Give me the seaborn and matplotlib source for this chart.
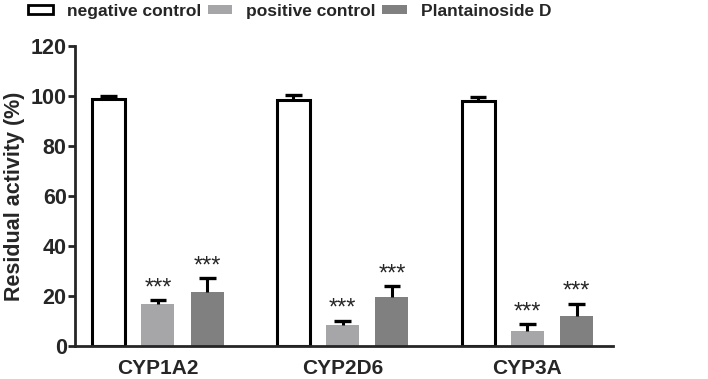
import matplotlib
matplotlib.use("Agg")
import matplotlib.pyplot as plt
import numpy as np
import pandas as pd
import seaborn as sns

# values
enzymes = ["CYP1A2", "CYP2D6", "CYP3A"]
groups = ["negative control", "positive control", "Plantainoside D"]
neg_mean = [98.7, 98.4, 97.9]
neg_err = [1.3, 1.9, 1.8]
pos_mean = [16.7, 8.4, 6.1]
pos_err = [1.7, 1.7, 2.6]
pd_mean = [21.5, 19.7, 12.1]
pd_err = [5.6, 4.3, 4.8]
stars = ["", "***", "***"]

colors = ["white", "#a6a6a8", "#808080"]

sns.set_style("ticks")
plt.rcParams["font.family"] = ["Liberation Sans", "DejaVu Sans"]
plt.rcParams["font.weight"] = "bold"

rows = []
for g, m, e in zip(groups, [neg_mean, pos_mean, pd_mean], [neg_err, pos_err, pd_err]):
    for enz, mv, ev in zip(enzymes, m, e):
        rows.append({"enzyme": enz, "group": g, "value": mv, "err": ev})
df = pd.DataFrame(rows)

fig = plt.figure(figsize=(7.08, 3.79), dpi=100)
ax = fig.add_axes([0.106, 0.087, 0.760, 0.792])

sns.barplot(data=df, x="enzyme", y="value", hue="group", order=enzymes,
            hue_order=groups, palette=colors, errorbar=None, gap=0.33,
            width=0.8, ax=ax, legend=False, saturation=1)

# style bars and add upper-only error bars + stars
nb = len(enzymes)
cap = 0.045
for gi, g in enumerate(groups):
    sub = df[df.group == g].set_index("enzyme").loc[enzymes]
    for ei, patch in enumerate(ax.patches[gi * nb:(gi + 1) * nb]):
        if gi == 0:
            patch.set_edgecolor("black")
            patch.set_linewidth(2.2)
        else:
            patch.set_edgecolor("none")
        xc = patch.get_x() + patch.get_width() / 2
        h = patch.get_height()
        e = sub["err"].iloc[ei]
        ax.vlines(xc, h, h + e, color="black", linewidth=2.2, zorder=3)
        ax.hlines(h + e, xc - cap, xc + cap, color="black", linewidth=2.4,
                  zorder=3)
        if stars[gi]:
            ax.text(xc, h + e + 0.3, stars[gi], ha="center", va="bottom",
                    fontsize=17, fontweight="normal")

ax.set_ylim(0, 120)
ax.set_yticks(range(0, 121, 20))
ax.set_xlim(-0.449, 2.465)
ax.set_xlabel("")
ax.set_ylabel("Residual activity (%)", fontsize=15.5, fontweight="bold",
              labelpad=4)
ax.tick_params(axis="x", length=0, labelsize=15, pad=9)
ax.tick_params(axis="y", length=5, width=2, labelsize=15.5, pad=1)
for lab in ax.get_xticklabels() + ax.get_yticklabels():
    lab.set_fontweight("bold")
sns.despine(ax=ax)
for s in ["left", "bottom"]:
    ax.spines[s].set_linewidth(2)

handles = [plt.Rectangle((0, 0), 1, 1, facecolor=c,
                         edgecolor="black" if i == 0 else "none", linewidth=2)
           for i, c in enumerate(colors)]
fig.legend(handles, groups, loc="center left", bbox_to_anchor=(0.04, 0.97),
           ncol=3, frameon=False, prop={"size": 12.5, "weight": "bold"},
           handlelength=1.4, handleheight=0.45, handletextpad=0.8,
           columnspacing=0.4, borderaxespad=0, borderpad=0)

fig.savefig("out.png", dpi=100)
